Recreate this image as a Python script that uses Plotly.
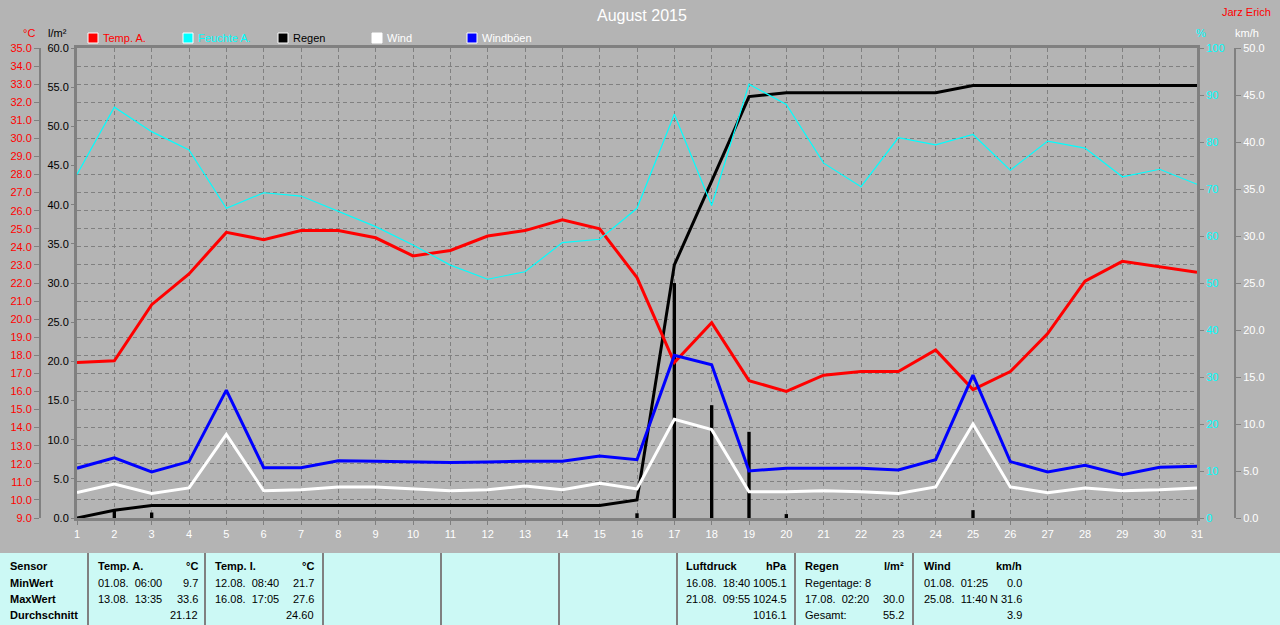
import plotly.graph_objects as go

W, H = 1280, 625


def px(x):
    return x / W


def py(y):
    return 1 - y / H


# ---------------- data ----------------
days = list(range(1, 32))
temp_a = [17.6, 17.7, 20.8, 22.5, 24.8, 24.4, 24.9, 24.9, 24.5, 23.5, 23.8,
          24.6, 24.9, 25.5, 25.0, 22.3, 17.6, 19.8, 16.6, 16.0, 16.9, 17.1,
          17.1, 18.3, 16.1, 17.1, 19.2, 22.1, 23.2, 22.9, 22.6]
humidity = [73.1, 87.4, 82.2, 78.3, 65.9, 69.2, 68.5, 65.2, 62.0, 58.1, 53.8,
            50.8, 52.4, 58.6, 59.3, 65.9, 85.9, 66.5, 92.3, 88.0, 75.5, 70.5,
            80.9, 79.4, 81.6, 74.0, 80.2, 78.7, 72.6, 74.2, 71.0]
rain_total = [0.0, 1.0, 1.6, 1.6, 1.6, 1.6, 1.6, 1.6, 1.6, 1.6, 1.6,
              1.6, 1.6, 1.6, 1.6, 2.3, 32.3, 43.0, 53.8, 54.3, 54.3, 54.3,
              54.3, 54.3, 55.2, 55.2, 55.2, 55.2, 55.2, 55.2, 55.2]
rain_bars = [0.0, 1.0, 0.7, 0.0, 0.0, 0.0, 0.0, 0.0, 0.0, 0.0, 0.0,
             0.0, 0.0, 0.0, 0.0, 0.6, 30.0, 14.4, 11.0, 0.5, 0.0, 0.0,
             0.0, 0.0, 1.0, 0.0, 0.0, 0.0, 0.0, 0.0, 0.0]
wind = [2.7, 3.6, 2.6, 3.2, 8.9, 2.9, 3.0, 3.3, 3.3, 3.1, 2.9,
        3.0, 3.4, 3.0, 3.7, 3.1, 10.5, 9.4, 2.8, 2.8, 2.9, 2.8,
        2.6, 3.3, 10.0, 3.3, 2.7, 3.2, 2.9, 3.0, 3.2]
gusts = [5.3, 6.4, 4.9, 6.0, 13.6, 5.35, 5.35, 6.1, 6.05, 6.0, 5.9,
         5.95, 6.05, 6.05, 6.6, 6.2, 17.3, 16.3, 5.0, 5.3, 5.3, 5.3,
         5.1, 6.2, 15.2, 6.0, 4.9, 5.6, 4.6, 5.4, 5.5]

legend_names = ["Temp. A.", "Feuchte A.", "Regen", "Wind", "Windböen"]
legend_colors = ["#ff0000", "#00ffff", "#000000", "#ffffff", "#0000ff"]
legend_text_colors = ["#ff0000", "#00ffff", "#000000", "#ffffff", "#ffffff"]

row_labels = ["Sensor", "MinWert", "MaxWert", "Durchschnitt"]
temp_a_stats = [("Temp. A.", "°C"), ("01.08.\u00a0\u00a006:00", "9.7"),
                ("13.08.\u00a0\u00a013:35", "33.6"), ("", "21.12")]
temp_i_stats = [("Temp. I.", "°C"), ("12.08.\u00a0\u00a008:40", "21.7"),
                ("16.08.\u00a0\u00a017:05", "27.6"), ("", "24.60")]
press_stats = [("Luftdruck", "hPa"), ("16.08.\u00a0\u00a018:40", "1005.1"),
               ("21.08.\u00a0\u00a009:55", "1024.5"), ("", "1016.1")]
rain_stats = [("Regen", "l/m²"), ("Regentage: 8", ""),
              ("17.08.\u00a0\u00a002:20", "30.0"), ("Gesamt:", "55.2")]
wind_stats = [("Wind", "km/h"), ("01.08.\u00a0\u00a001:25", "0.0"),
              ("25.08.\u00a0\u00a011:40", "N 31.6"), ("", "3.9")]

FONT = "Liberation Sans"
GRID = "#808080"
BG = "#b4b4b4"

fig = go.Figure()

fig.add_trace(go.Scatter(x=days, y=humidity, yaxis="y3", mode="lines",
                         line=dict(color="#00ffff", width=1.2)))
fig.add_trace(go.Scatter(x=days, y=temp_a, yaxis="y2", mode="lines",
                         line=dict(color="#ff0000", width=3)))
fig.add_trace(go.Bar(x=days, y=rain_bars, yaxis="y", width=0.09,
                     marker=dict(color="#000000", line=dict(width=0))))
fig.add_trace(go.Scatter(x=days, y=rain_total, yaxis="y", mode="lines",
                         line=dict(color="#000000", width=3)))
fig.add_trace(go.Scatter(x=days, y=wind, yaxis="y4", mode="lines",
                         line=dict(color="#ffffff", width=3)))
fig.add_trace(go.Scatter(x=days, y=gusts, yaxis="y4", mode="lines",
                         line=dict(color="#0000ff", width=3)))

ydom = [py(518), py(48)]
tick_font = dict(family=FONT, size=11)

fig.update_layout(
    width=W, height=H,
    paper_bgcolor=BG, plot_bgcolor=BG,
    margin=dict(l=0, r=0, t=0, b=0, autoexpand=False),
    showlegend=False,
    hovermode=False,
    font=dict(family=FONT, size=11),
    xaxis=dict(domain=[px(77), px(1197)], range=[1, 31], tickmode="array",
               tickvals=days, ticktext=[str(d) for d in days],
               tickfont=dict(tick_font, color="#ffffff"),
               ticks="outside", ticklen=4, tickcolor=GRID,
               showgrid=True, gridcolor=GRID, griddash="4px,3px", gridwidth=1,
               showline=True, linecolor=GRID, linewidth=3, mirror=True,
               zeroline=False, fixedrange=True),
    yaxis=dict(domain=ydom, range=[0, 60], dtick=5, tickformat=".1f",
               anchor="x", side="left", ticks="outside", ticklen=3,
               tickcolor=GRID, tickfont=dict(tick_font, color="#000000"),
               showline=True, linecolor=GRID, linewidth=3,
               showgrid=False, zeroline=False),
    yaxis2=dict(range=[9, 35], dtick=1, tickformat=".1f", overlaying="y",
                anchor="free", position=px(40), side="left",
                ticks="outside", ticklen=5, tickcolor=GRID,
                tickfont=dict(tick_font, color="#ff0000"),
                showline=True, linecolor=GRID, linewidth=2,
                showgrid=True, gridcolor=GRID, griddash="4px,3px",
                gridwidth=1, zeroline=False),
    yaxis3=dict(range=[0, 100], dtick=10, overlaying="y", anchor="x",
                side="right", ticks="outside", ticklen=4, tickcolor=GRID,
                tickfont=dict(tick_font, color="#00ffff"),
                showline=True, linecolor=GRID, linewidth=3,
                showgrid=False, zeroline=False),
    yaxis4=dict(range=[0, 50], dtick=5, tickformat=".1f", overlaying="y",
                anchor="free", position=px(1235), side="right",
                ticks="outside", ticklen=5, tickcolor=GRID,
                tickfont=dict(tick_font, color="#ffffff"),
                showline=True, linecolor=GRID, linewidth=2,
                showgrid=False, zeroline=False),
)

shapes = []
annotations = []


def text(x, y, s, color="#000000", size=11, anchor="left", bold=False):
    if bold and s:
        s = "<b>" + s + "</b>"
    annotations.append(dict(x=px(x), y=py(y), xref="paper", yref="paper",
                            text=s, showarrow=False, xanchor=anchor,
                            yanchor="middle",
                            font=dict(family=FONT, size=size, color=color)))


# Title and author
text(642, 15, "August 2015", "#ffffff", 16, "center")
text(1273, 12, "Jarz Erich", "#ff0000", 11, "right")

# Axis unit labels
text(29, 33, "°C", "#ff0000", 11, "center")
text(57, 33, "l/m²", "#000000", 11, "center")
text(1201, 33, "%", "#00ffff", 11, "center")
text(1247, 33, "km/h", "#ffffff", 11, "center")

# Legend
leg_x = [88, 183, 278, 372, 467]
for lx, name, col, tcol in zip(leg_x, legend_names, legend_colors,
                               legend_text_colors):
    shapes.append(dict(type="rect", xref="paper", yref="paper",
                       x0=px(lx), x1=px(lx + 10), y0=py(43), y1=py(33),
                       fillcolor=col, line=dict(color="#ffffff", width=1)))
    text(lx + 13, 38, name, tcol, 11, "left")

# Statistics table
shapes.append(dict(type="rect", xref="paper", yref="paper",
                   x0=0, x1=1, y0=0, y1=py(553),
                   fillcolor="#ccf9f5", line=dict(width=0), layer="below"))
for lx in [88, 205, 323, 441, 559, 677, 795, 913]:
    shapes.append(dict(type="line", xref="paper", yref="paper",
                       x0=px(lx), x1=px(lx), y0=0, y1=py(553),
                       line=dict(color=GRID, width=2)))

row_y = [566, 582.5, 599, 615]
for ry, lab in zip(row_y, row_labels):
    text(8, ry, lab, "#000000", 11, "left", bold=True)


def stat_column(stats, xl, xr):
    for i, (ry, (left, right)) in enumerate(zip(row_y, stats)):
        b = i == 0
        if left:
            text(xl, ry, left, "#000000", 11, "left", bold=b)
        if right:
            text(xr, ry, right, "#000000", 11, "right", bold=b)


stat_column(temp_a_stats, 96, 200)
stat_column(temp_i_stats, 213, 316)
stat_column(press_stats, 684, 789)
stat_column(rain_stats, 803, 906)
stat_column(wind_stats, 922, 1024)

fig.update_layout(shapes=shapes, annotations=annotations)

fig.write_html(
    "out.html",
    config={"displayModeBar": False, "staticPlot": True},
    post_script="document.body.style.margin='0';"
                "document.body.style.overflow='hidden';",
)
